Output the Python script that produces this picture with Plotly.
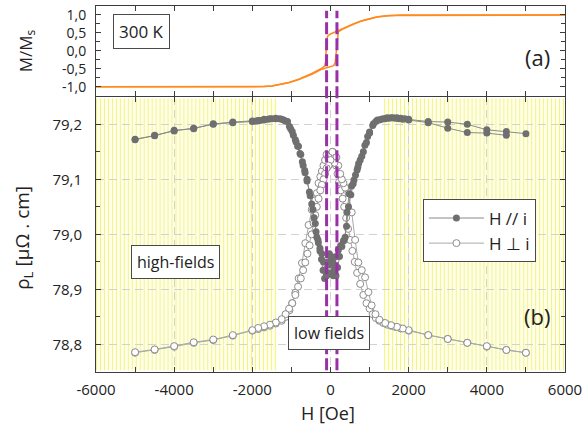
import plotly.graph_objects as go

# ---------------- data ----------------
# (a) magnetisation loop, M/Ms vs H [Oe]
M_desc_H = [6000, 1800, 1500, 1200, 1000, 800, 600, 400, 200, 100, 0, -60, -90, -105, -115, -125, -150, -220, -475, -815, -1070, -1300, -1500, -1700, -2000, -6000]
M_desc = [1.0, 1.0, 0.985, 0.95, 0.90, 0.84, 0.76, 0.67, 0.57, 0.52, 0.47, 0.43, 0.35, 0.15, -0.10, -0.30, -0.42, -0.48, -0.63, -0.79, -0.88, -0.94, -0.975, -0.995, -1.0, -1.0]
M_asc_H = [-6000, -2000, -1700, -1500, -1300, -1070, -815, -600, -475, -220, 0, 80, 120, 140, 155, 170, 200, 300, 400, 600, 800, 1000, 1200, 1500, 1800, 6000]
M_asc = [-1.0, -1.0, -0.995, -0.975, -0.945, -0.89, -0.80, -0.71, -0.65, -0.51, -0.45, -0.41, -0.33, -0.10, 0.20, 0.40, 0.53, 0.60, 0.655, 0.75, 0.835, 0.895, 0.945, 0.98, 1.0, 1.0]

# (b) resistivity, H // i (filled) -- sweep down then sweep up
H_par_dn = [5000, 4500, 4000, 3500, 3000, 2500, 2000, 1900, 1800, 1700, 1600, 1500, 1400, 1300, 1200, 1100, 1000, 950, 880, 800, 720, 680, 600, 540, 480, 420, 375, 330, 260, 200, 150, 110, 70, 30, 0, -30, -70, -110, -150, -190, -230, -270, -310, -350, -390, -450, -520, -600, -650, -700, -760, -820, -880, -950, -1020, -1100, -1200, -1300, -1400, -1500, -1600, -1700, -1800, -1900, -2000, -2500, -3000, -3500, -4000, -4500, -5000]
rho_par_dn = [79.183, 79.187, 79.190, 79.200, 79.204, 79.205, 79.209, 79.210, 79.211, 79.212, 79.212, 79.211, 79.210, 79.209, 79.208, 79.201, 79.186, 79.178, 79.162, 79.142, 79.129, 79.117, 79.099, 79.088, 79.074, 79.040, 78.995, 78.988, 78.980, 78.972, 78.960, 78.940, 78.925, 78.930, 78.950, 78.965, 78.950, 78.930, 78.920, 78.935, 78.955, 78.970, 78.985, 78.995, 79.020, 79.045, 79.070, 79.097, 79.112, 79.125, 79.145, 79.160, 79.168, 79.180, 79.192, 79.205, 79.208, 79.210, 79.210, 79.210, 79.209, 79.208, 79.207, 79.206, 79.205, 79.203, 79.201, 79.192, 79.189, 79.179, 79.173]
H_par_up = [-5000, -4500, -4000, -3500, -3000, -2500, -2000, -1850, -1700, -1550, -1400, -1250, -1150, -1050, -980, -900, -840, -780, -720, -660, -600, -540, -480, -420, -370, -320, -270, -220, -180, -140, -100, -60, -20, 20, 60, 100, 140, 180, 230, 290, 350, 410, 460, 520, 580, 640, 700, 760, 840, 920, 1000, 1080, 1160, 1250, 1350, 1450, 1550, 1650, 1750, 1850, 2000, 2500, 3000, 3500, 4000, 4500]
rho_par_up = [79.172, 79.180, 79.188, 79.193, 79.200, 79.204, 79.206, 79.207, 79.209, 79.210, 79.211, 79.209, 79.206, 79.196, 79.187, 79.172, 79.160, 79.147, 79.132, 79.116, 79.100, 79.077, 79.055, 79.030, 79.005, 78.990, 78.975, 78.965, 78.950, 78.935, 78.925, 78.930, 78.945, 78.960, 78.950, 78.935, 78.925, 78.940, 78.960, 78.978, 78.990, 79.015, 79.050, 79.072, 79.092, 79.108, 79.122, 79.135, 79.150, 79.167, 79.184, 79.198, 79.205, 79.208, 79.210, 79.212, 79.212, 79.211, 79.210, 79.209, 79.208, 79.203, 79.193, 79.185, 79.184, 79.180]

# (b) resistivity, H perpendicular to i (open) -- sweep up then sweep down
H_perp_up = [-5000, -4500, -4000, -3500, -3000, -2500, -2000, -1850, -1700, -1550, -1400, -1250, -1150, -1050, -980, -900, -815, -730, -645, -560, -480, -433, -390, -348, -306, -260, -220, -180, -140, -100, -60, -20, 20, 60, 100, 140, 180, 220, 262, 310, 350, 400, 450, 500, 560, 620, 680, 760, 840, 920, 1000, 1080, 1160, 1250, 1350, 1450, 1550, 1650, 1800, 2000, 2500, 3000, 3500, 4000, 4500, 5000]
rho_perp_up = [78.785, 78.790, 78.796, 78.803, 78.808, 78.816, 78.825, 78.828, 78.831, 78.834, 78.838, 78.843, 78.850, 78.862, 78.875, 78.894, 78.920, 78.948, 78.984, 79.017, 79.045, 79.057, 79.062, 79.075, 79.093, 79.105, 79.115, 79.125, 79.135, 79.145, 79.140, 79.130, 79.145, 79.150, 79.140, 79.125, 79.110, 79.095, 79.080, 79.065, 79.050, 79.030, 79.010, 78.990, 78.970, 78.950, 78.930, 78.910, 78.890, 78.875, 78.865, 78.855, 78.848, 78.843, 78.839, 78.836, 78.834, 78.832, 78.829, 78.825, 78.817, 78.810, 78.803, 78.796, 78.790, 78.785]
H_perp_dn = [5000, 4500, 4000, 3500, 3000, 2500, 2000, 1850, 1700, 1550, 1400, 1250, 1150, 1052, 970, 885, 800, 713, 630, 543, 459, 375, 331, 290, 250, 200, 150, 100, 50, 0, -50, -100, -140, -178, -220, -262, -306, -350, -390, -433, -480, -535, -590, -645, -700, -760, -830, -900, -980, -1060, -1150, -1250, -1400, -1550, -1700, -1850, -2000, -2500, -3000, -3500, -4000, -4500, -5000]
rho_perp_dn = [78.785, 78.790, 78.797, 78.803, 78.810, 78.817, 78.826, 78.829, 78.832, 78.835, 78.839, 78.845, 78.855, 78.871, 78.895, 78.922, 78.935, 78.949, 78.990, 79.040, 79.075, 79.085, 79.093, 79.100, 79.110, 79.125, 79.140, 79.130, 79.150, 79.135, 79.125, 79.120, 79.110, 79.100, 79.090, 79.080, 79.065, 79.050, 79.035, 79.020, 79.000, 78.980, 78.965, 78.949, 78.935, 78.920, 78.905, 78.890, 78.875, 78.865, 78.855, 78.846, 78.840, 78.836, 78.833, 78.830, 78.826, 78.817, 78.809, 78.804, 78.797, 78.791, 78.786]

assert len(M_desc_H) == len(M_desc) and len(M_asc_H) == len(M_asc)
assert len(H_par_dn) == len(rho_par_dn)
assert len(H_par_up) == len(rho_par_up)
assert len(H_perp_up) == len(rho_perp_up)
assert len(H_perp_dn) == len(rho_perp_dn)

# axes ticks / labels
x_ticks = [-6000, -4000, -2000, 0, 2000, 4000, 6000]
x_ticktext = ["-6000", "-4000", "-2000", "0", "2000", "4000", "6000"]
m_ticks = [-1.0, -0.5, 0.0, 0.5, 1.0]
m_ticktext = ["-1,0", "-0,5", "0,0", "0,5", "1,0"]
rho_ticks = [78.8, 78.9, 79.0, 79.1, 79.2]
rho_ticktext = ["78,8", "78,9", "79,0", "79,1", "79,2"]

# regions & markers
high_field_regions = [(-6000, -1370), (1370, 6000)]
coercive_fields = [-100, 165]

FONT = "Open Sans"
ORANGE = "#ff8a1e"
PURPLE = "#9a30a8"
AXC = "#3c3c3c"

# layout geometry (pixels)
ML, MR, MT, MB = 96, 19, 5, 58
W, H = 587, 430
PLOT_W = W - ML - MR
X_RANGE = (-6000, 6000)
OE_PER_PX = (X_RANGE[1] - X_RANGE[0]) / PLOT_W

# ---------------- figure ----------------
fig = go.Figure()

for hx, my in ((M_desc_H, M_desc), (M_asc_H, M_asc)):
    fig.add_trace(go.Scatter(x=hx, y=my, mode="lines", xaxis="x", yaxis="y",
                             line=dict(color=ORANGE, width=1.5), showlegend=False,
                             hoverinfo="skip"))

fig.add_trace(go.Scatter(
    x=H_perp_up + [None] + H_perp_dn, y=rho_perp_up + [None] + rho_perp_dn,
    mode="lines+markers", xaxis="x2", yaxis="y2", name="H \u22a5 i", legendrank=2,
    line=dict(color="#a9a9a9", width=1),
    marker=dict(symbol="circle", size=7, color="white", line=dict(color="#8c8c8c", width=1)),
    connectgaps=False))

fig.add_trace(go.Scatter(
    x=H_par_dn + [None] + H_par_up, y=rho_par_dn + [None] + rho_par_up,
    mode="lines+markers", xaxis="x2", yaxis="y2", name="H // i", legendrank=1,
    line=dict(color="#8a8a8a", width=1),
    marker=dict(symbol="circle", size=7, color="#6f6f6f"),
    connectgaps=False))

shapes = []
# yellow hatched high-field regions (below gridlines), one line every 4 px
y_lo, y_hi = 78.753, 79.247
for x0, x1 in high_field_regions:
    shapes.append(dict(type="rect", xref="x2", yref="y2", x0=x0, x1=x1, y0=y_lo, y1=y_hi,
                       fillcolor="#fffff0", line=dict(width=0), layer="below"))
    p0 = int(round((x0 - X_RANGE[0]) / OE_PER_PX))
    p1 = int(round((x1 - X_RANGE[0]) / OE_PER_PX))
    for p in range(p0, p1 + 1, 4):
        xv = X_RANGE[0] + (p + 0.5) * OE_PER_PX
        if xv > X_RANGE[1]:
            break
        shapes.append(dict(type="line", xref="x2", yref="y2", x0=xv, x1=xv, y0=y_lo, y1=y_hi,
                           line=dict(color="#f4f47a", width=1), layer="below"))
# coercive field dashed lines across both panels
for hc in coercive_fields:
    shapes.append(dict(type="line", xref="x2", yref="paper", x0=hc, x1=hc, y0=0.005, y1=0.987,
                       line=dict(color=PURPLE, width=3, dash="12px,4px"), layer="above"))

axis_common = dict(showline=True, linecolor=AXC, linewidth=1, mirror="ticks",
                   ticks="inside", ticklen=5, tickcolor=AXC, zeroline=False)

PLOT_H = H - MT - MB

def px_x(p):
    return (p - ML) / float(PLOT_W)

def px_y(p):
    return (H - MB - p) / float(PLOT_H)

box = dict(bordercolor="#4a4a4a", borderwidth=1, bgcolor="white", borderpad=5)
annotations = [
    dict(text="M/M<sub>s</sub>", x=px_x(26), y=px_y(50), textangle=-90,
         font=dict(size=17, color="#222")),
    dict(text="\u03c1<sub>L</sub> [\u03bc\u03a9 . cm]", x=px_x(23), y=px_y(237), textangle=-90,
         font=dict(size=19, color="#222")),
    dict(text="H [Oe]", x=px_x(329), y=px_y(413), font=dict(size=18, color="#222")),
    dict(text="300 K", x=px_x(142), y=px_y(31), font=dict(size=17, color="#222"), **box),
    dict(text="(a)", x=px_x(540), y=px_y(56), font=dict(size=22, color="#222")),
    dict(text="(b)", x=px_x(540), y=px_y(316), font=dict(size=22, color="#222")),
    dict(text="high-fields", x=px_x(176), y=px_y(262), font=dict(size=16, color="#222"), **box),
    dict(text="low fields", x=px_x(330), y=px_y(333), font=dict(size=16, color="#222"), **box),
]
for a in annotations:
    a.update(xref="paper", yref="paper", showarrow=False, xanchor="center", yanchor="middle")

split = 0.752
fig.update_layout(
    width=W, height=H,
    margin=dict(l=ML, r=MR, t=MT, b=MB),
    paper_bgcolor="white", plot_bgcolor="white",
    font=dict(family=FONT, color="#222"),
    xaxis=dict(domain=[0, 1], anchor="y", range=list(X_RANGE), showticklabels=False,
               tickmode="linear", tick0=0, dtick=1000, showgrid=False, **axis_common),
    yaxis=dict(domain=[split + 1.0 / PLOT_H, 1], anchor="x", range=[-1.25, 1.25], tickvals=m_ticks,
               ticktext=m_ticktext, tickfont=dict(size=14), ticklabelstandoff=6,
               minor=dict(tickmode="linear", tick0=0, dtick=0.25, ticks="inside", ticklen=4,
                          tickcolor=AXC),
               showgrid=False, **axis_common),
    xaxis2=dict(domain=[0, 1], anchor="y2", range=list(X_RANGE), tickvals=x_ticks,
                ticktext=x_ticktext, tickfont=dict(size=15), ticklabelstandoff=4,
                minor=dict(tickmode="linear", tick0=0, dtick=1000, ticks="inside", ticklen=5,
                           tickcolor=AXC, showgrid=False),
                showgrid=True, gridcolor="#d2d2d2", griddash="8px,5px", gridwidth=1,
                **axis_common),
    yaxis2=dict(domain=[0, split], anchor="x2", range=[78.75, 79.25], tickvals=rho_ticks,
                ticktext=rho_ticktext, tickfont=dict(size=15), ticklabelstandoff=10,
                minor=dict(tickmode="linear", tick0=78.75, dtick=0.05, ticks="inside", ticklen=4,
                           tickcolor=AXC, showgrid=False),
                showgrid=True, gridcolor="#d2d2d2", griddash="8px,5px", gridwidth=1,
                **axis_common),
    shapes=shapes,
    annotations=annotations,
    legend=dict(x=px_x(425), y=px_y(199), xanchor="left", yanchor="top",
                bgcolor="white", bordercolor="#4a4a4a", borderwidth=1,
                font=dict(size=17, color="#222"), traceorder="normal",
                itemwidth=55, tracegroupgap=10),
    showlegend=True,
)

fig.write_html("out.html", config={"displayModeBar": False},
               post_script="document.body.style.margin='0px';document.body.style.padding='0px';")
